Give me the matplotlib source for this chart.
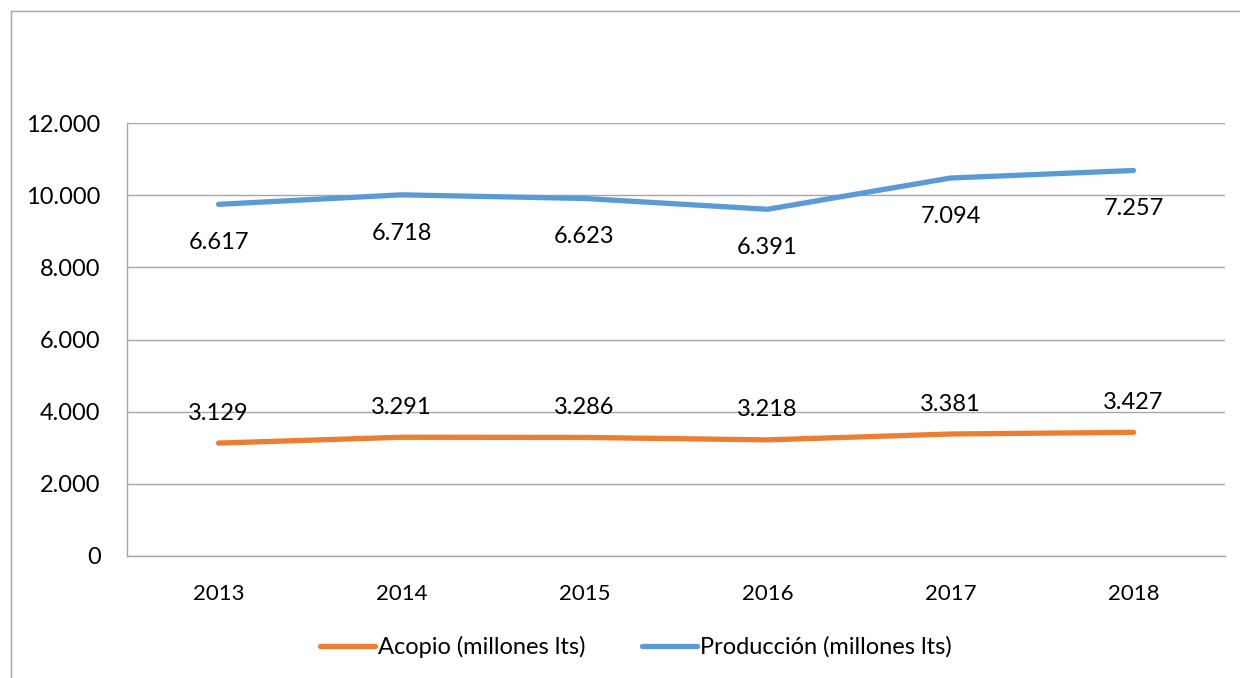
import matplotlib.pyplot as plt
from matplotlib.lines import Line2D
from matplotlib.ticker import FuncFormatter
import numpy as np

plt.rcParams["font.family"] = ["Lato", "DejaVu Sans"]

years = ["2013", "2014", "2015", "2016", "2017", "2018"]
acopio = [3129, 3291, 3286, 3218, 3381, 3427]
produccion = [6617, 6718, 6623, 6391, 7094, 7257]

orange = "#ED7D31"
blue = "#5B9BD5"
grid_col = "#A6A6A6"


def fmt(v):
    return f"{int(v):,}".replace(",", ".")


fig = plt.figure(figsize=(12.4, 6.78), dpi=100)
ax = fig.add_axes([127 / 1240, 1 - 556 / 678, 1098 / 1240, 433 / 678])

x = np.arange(len(years))
acop = np.array(acopio)
prod_stack = acop + np.array(produccion)  # stacked line chart

ax.plot(x, acop, color=orange, lw=3.8, solid_capstyle="round")
ax.plot(x, prod_stack, color=blue, lw=3.8, solid_capstyle="round")

for xi, a, p, pv in zip(x, acop, prod_stack, produccion):
    ax.annotate(fmt(a), (xi, a), xytext=(0, 14), textcoords="offset points",
                ha="center", va="bottom", fontsize=17)
    ax.annotate(fmt(pv), (xi, p), xytext=(0, -20), textcoords="offset points",
                ha="center", va="top", fontsize=17)

ax.set_xlim(-0.5, len(years) - 0.5)
ax.set_ylim(0, 12000)
ax.set_yticks(range(0, 12001, 2000))
ax.yaxis.set_major_formatter(FuncFormatter(lambda v, _: fmt(v)))
ax.set_xticks(x)
ax.set_xticklabels(years)
ax.tick_params(axis="both", length=0)
ax.tick_params(axis="x", pad=20, labelsize=16)
ax.tick_params(axis="y", pad=19, labelsize=17)
ax.grid(axis="y", color=grid_col, lw=1)
ax.set_axisbelow(True)
for side in ["top", "right"]:
    ax.spines[side].set_visible(False)
for side in ["left", "bottom"]:
    ax.spines[side].set_color(grid_col)
    ax.spines[side].set_linewidth(1)

handles = [Line2D([], [], color=orange, lw=3.8, solid_capstyle="round"),
           Line2D([], [], color=blue, lw=3.8, solid_capstyle="round")]
fig.legend(handles, ["Acopio (millones lts)", "Producción (millones lts)"],
           loc="center", bbox_to_anchor=(0.513, 1 - 647 / 678), ncol=2,
           frameon=False, fontsize=17, handlelength=2.3, handletextpad=0.15,
           columnspacing=2.4)

# outer chart border
fig.add_artist(Line2D([11 / 1240, 11 / 1240], [0, 1 - 11 / 678],
                      transform=fig.transFigure, color=grid_col, lw=1))
fig.add_artist(Line2D([11 / 1240, 1], [1 - 11 / 678, 1 - 11 / 678],
                      transform=fig.transFigure, color=grid_col, lw=1))

fig.savefig("out.png", dpi=100)
